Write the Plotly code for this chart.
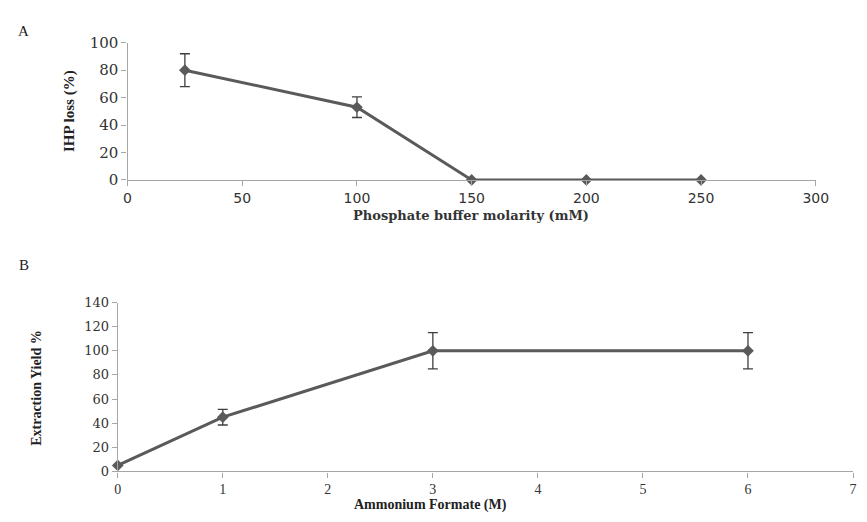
import plotly.graph_objects as go

# ---- Data ----
phosphate_mM = [25, 100, 150, 200, 250]
ihp_loss = [80, 53, 0, 0, 0]
ihp_loss_err = [12, 7.5, 0, 0, 0]

ammonium_M = [0, 1, 3, 6]
extraction_yield = [5, 45, 100, 100]
extraction_err = [0, 6.5, 15, 15]

top_xticks = [0, 50, 100, 150, 200, 250, 300]
top_yticks = [0, 20, 40, 60, 80, 100]
bot_xticks = [0, 1, 2, 3, 4, 5, 6, 7]
bot_yticks = [0, 20, 40, 60, 80, 100, 120, 140]

W, H = 867, 522
def px(x):
    return x / W
def py(y):
    return 1 - y / H

LINE = "#5a5a5a"
ERR = "#3f3f3f"
AX = "#a6a6a6"

fig = go.Figure()
fig.add_trace(go.Scatter(
    x=phosphate_mM, y=ihp_loss, mode="lines+markers",
    line=dict(color=LINE, width=3),
    marker=dict(symbol="diamond", size=9, color=LINE),
    error_y=dict(type="data", array=ihp_loss_err, visible=True, color=ERR, thickness=1.3, width=5),
    cliponaxis=False, xaxis="x", yaxis="y", showlegend=False))
fig.add_trace(go.Scatter(
    x=ammonium_M, y=extraction_yield, mode="lines+markers",
    line=dict(color=LINE, width=3),
    marker=dict(symbol="diamond", size=9, color=LINE),
    error_y=dict(type="data", array=extraction_err, visible=True, color=ERR, thickness=1.3, width=5),
    cliponaxis=False, xaxis="x2", yaxis="y2", showlegend=False))

axis_common = dict(showgrid=False, zeroline=False, showline=True, linecolor=AX, linewidth=1.3,
                   ticks="outside", ticklen=5, tickcolor=AX, tickwidth=1.3)

fig.update_layout(
    width=W, height=H, margin=dict(l=0, r=0, t=0, b=0),
    paper_bgcolor="white", plot_bgcolor="white",
    xaxis=dict(domain=[px(126), px(828)], range=[0, 300], tickvals=top_xticks,
               anchor="y", tickfont=dict(family="DejaVu Sans", size=14, color="#333333"), **axis_common),
    yaxis=dict(domain=[py(177), py(35)], range=[0, 100], tickvals=top_yticks,
               anchor="x", tickfont=dict(family="DejaVu Serif", size=15, color="#333333"), **axis_common),
    xaxis2=dict(domain=[px(116), px(866)], range=[0, 7], tickvals=bot_xticks, ticklabelstandoff=0,
                anchor="y2", tickfont=dict(family="Liberation Serif", size=14, color="#333333"), **axis_common),
    yaxis2=dict(domain=[py(479), py(304)], range=[0, 140], tickvals=bot_yticks,
                anchor="x2", tickfont=dict(family="DejaVu Serif", size=13, color="#333333"), **axis_common),
)

ann = [
    dict(text="A", x=px(20), y=py(23), font=dict(family="Liberation Serif", size=15, color="#222")),
    dict(text="B", x=px(20), y=py(265), font=dict(family="Liberation Serif", size=15, color="#222")),
    dict(text="<b>Phosphate buffer molarity (mM)</b>", x=px(476), y=py(214),
         font=dict(family="DejaVu Serif", size=13, color="#333")),
    dict(text="<b>IHP loss (%)</b>", x=px(67), y=py(106), textangle=-90,
         font=dict(family="Liberation Serif", size=15, color="#222")),
    dict(text="<b>Ammonium Formate (M)</b>", x=px(435), y=py(514),
         font=dict(family="Liberation Serif", size=14, color="#222")),
    dict(text="<b>Extraction Yield %</b>", x=px(33), y=py(392), textangle=-90,
         font=dict(family="Liberation Serif", size=14, color="#222")),
]
for a in ann:
    fig.add_annotation(xref="paper", yref="paper", showarrow=False, xanchor="center", yanchor="middle", **a)

fig.write_html("out.html", config={"displayModeBar": False},
               post_script="document.body.style.margin='0';document.body.style.overflow='hidden';")
